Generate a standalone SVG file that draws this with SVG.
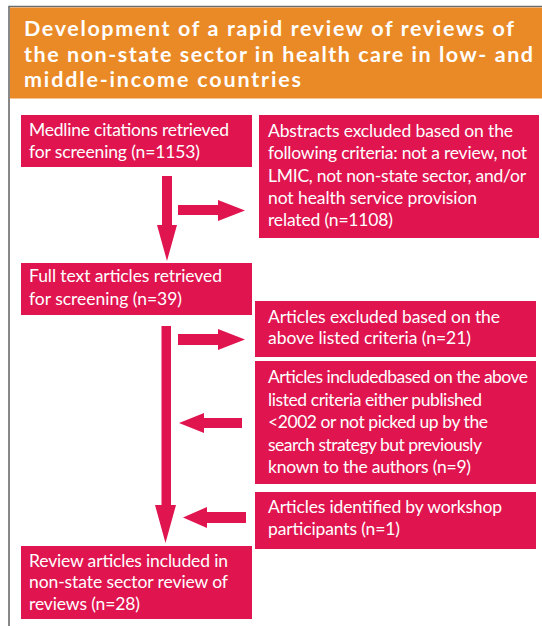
<svg xmlns="http://www.w3.org/2000/svg" width="542" height="626" viewBox="0 0 542 626">
<style>
.box{fill:#E01550;}
.t{font-family:Lato,"Liberation Sans",sans-serif;font-size:17.5px;fill:#ffffff;}
.h{font-family:Lato,"Liberation Sans",sans-serif;font-size:21.5px;font-weight:bold;fill:#ffffff;}
.arr{fill:#E01550;}
</style>
<rect x="0" y="0" width="542" height="626" fill="#ffffff"/>
<path d="M9,626 V6.5 H542" fill="none" stroke="#6b6b6b" stroke-width="1.6"/>
<g id="header">
<rect x="10" y="7.5" width="532" height="91" fill="#EA8A26"/>
<text class="h" x="24" y="36" textLength="490">Development of a rapid review of reviews of</text>
<text class="h" x="24" y="62" textLength="509">the non-state sector in health care in low- and</text>
<text class="h" x="24" y="87" textLength="277">middle-income countries</text>
</g>
<g id="connectors">
<polygon class="arr" points="162,176 172,176 172,225 177,225 167,261 157,225 162,225"/>
<polygon class="arr" points="178,205 218,205 218,200 245,210.5 218,221 218,215 178,215"/>
<polygon class="arr" points="178,334 218,334 218,329 245,339.5 218,350 218,345 178,345"/>
<polygon class="arr" points="242,418 204,418 204,413 179,423 204,433 204,428 242,428"/>
<polygon class="arr" points="246,512 207,512 207,507 183,517.5 207,528 207,523 246,523"/>
<polygon class="arr" points="161.5,326 171,326 171,505 176,505 165.5,543 155,505 161.5,505"/>
</g>
<g id="n1">
<rect class="box" x="21" y="115" width="231" height="52"/>
<text class="t" x="29" y="135.5" textLength="200">Medline citations retrieved</text>
<text class="t" x="29" y="158" textLength="171">for screening (n=1153)</text>
</g>
<g id="n2">
<rect class="box" x="259" y="115" width="280" height="123"/>
<text class="t" x="268" y="137" textLength="245">Abstracts excluded based on the</text>
<text class="t" x="268" y="159.3" textLength="259">following criteria: not a review, not</text>
<text class="t" x="268" y="181.6" textLength="258">LMIC, not non-state sector, and/or</text>
<text class="t" x="268" y="203.9" textLength="209">not health service provision</text>
<text class="t" x="268" y="226" textLength="125">related (n=1108)</text>
</g>
<g id="n3">
<rect class="box" x="21" y="263" width="231" height="52"/>
<text class="t" x="29" y="282.3" textLength="193">Full text articles retrieved</text>
<text class="t" x="29" y="305" textLength="153">for screening (n=39)</text>
</g>
<g id="n4">
<rect class="box" x="255" y="301" width="281" height="56"/>
<text class="t" x="268" y="322.7" textLength="232">Articles excluded based on the</text>
<text class="t" x="268" y="344.3" textLength="203">above listed criteria (n=21)</text>
</g>
<g id="n5">
<rect class="box" x="255" y="361" width="281" height="123"/>
<text class="t" x="268" y="383.3" textLength="260">Articles includedbased on the above</text>
<text class="t" x="268" y="405.8" textLength="214">listed criteria either published</text>
<text class="t" x="268" y="428.2" textLength="220">&lt;2002 or not picked up by the</text>
<text class="t" x="268" y="450.6" textLength="214">search strategy but previously</text>
<text class="t" x="268" y="472.8" textLength="203">known to the authors (n=9)</text>
</g>
<g id="n6">
<rect class="box" x="255" y="492" width="281" height="57"/>
<text class="t" x="268" y="513.3" textLength="234">Articles identified by workshop</text>
<text class="t" x="268" y="535" textLength="132">participants (n=1)</text>
</g>
<g id="n7">
<rect class="box" x="21" y="546" width="231" height="73"/>
<text class="t" x="29" y="566.7" textLength="199">Review articles included in</text>
<text class="t" x="29" y="588.3" textLength="199">non-state sector review of</text>
<text class="t" x="29" y="610" textLength="111">reviews (n=28)</text>
</g>
</svg>
